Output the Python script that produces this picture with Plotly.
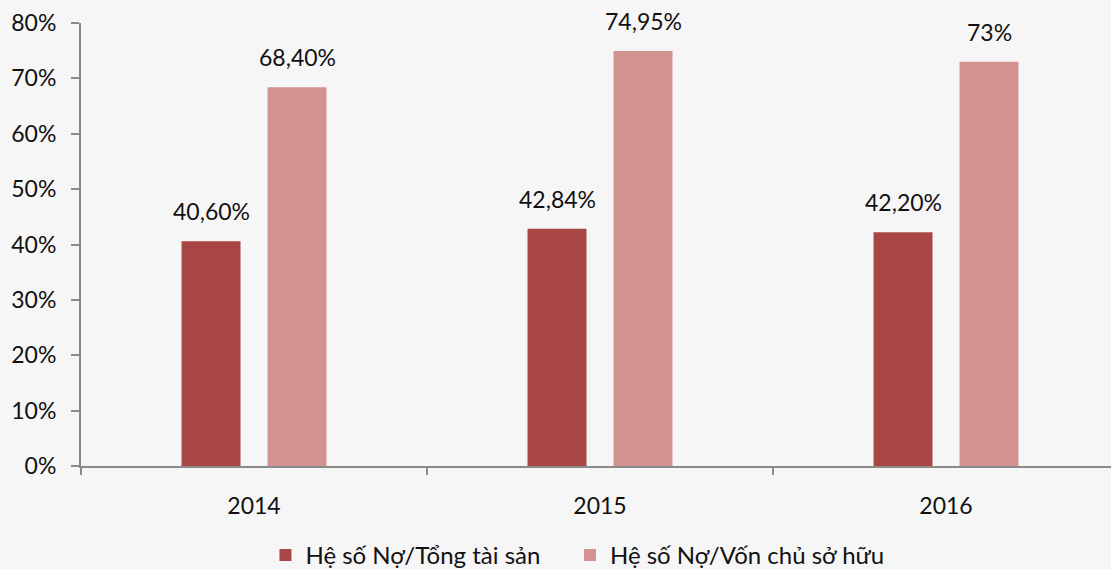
import plotly.graph_objects as go

# Debt ratios by year
years = ["2014", "2015", "2016"]
debt_to_assets = [40.60, 42.84, 42.20]
debt_to_equity = [68.40, 74.95, 73.00]
debt_to_assets_labels = ["40,60%", "42,84%", "42,20%"]
debt_to_equity_labels = ["68,40%", "74,95%", "73%"]
y_ticks = [0, 10, 20, 30, 40, 50, 60, 70, 80]
y_tick_text = [f"{v}%" for v in y_ticks]

FONT = "Lato, 'Open Sans', sans-serif"
DARK = "#A84646"
LIGHT = "#D39190"
AXIS = "#8a8a8a"
TXT = "#111111"

fig = go.Figure()
fig.add_trace(go.Bar(
    x=years, y=debt_to_assets, name="Hệ số Nợ/Tổng tài sản    ",
    marker=dict(color=DARK, line=dict(width=0)),
))
fig.add_trace(go.Bar(
    x=years, y=debt_to_equity, name="Hệ số Nợ/Vốn chủ sở hữu",
    marker=dict(color=LIGHT, line=dict(width=0)),
))

# value labels above each bar (x given as category index)
for i, (v, t) in enumerate(zip(debt_to_assets, debt_to_assets_labels)):
    fig.add_annotation(x=i, y=v, text=t, xshift=-43, yshift=14,
                       yanchor="bottom", showarrow=False,
                       font=dict(family=FONT, size=23, color=TXT))
for i, (v, t) in enumerate(zip(debt_to_equity, debt_to_equity_labels)):
    fig.add_annotation(x=i, y=v, text=t, xshift=43, yshift=14,
                       yanchor="bottom", showarrow=False,
                       font=dict(family=FONT, size=23, color=TXT))

fig.update_layout(
    width=1111, height=569,
    margin=dict(l=81, r=0, t=23, b=103, autoexpand=False),
    paper_bgcolor="#f7f6f7",
    plot_bgcolor="rgba(0,0,0,0)",
    barmode="group",
    bargap=0.503,
    bargroupgap=0.314,
    font=dict(family=FONT, size=22, color=TXT),
    showlegend=True,
    legend=dict(orientation="h", x=0.482, xanchor="center",
                yref="container", y=0.024, yanchor="middle",
                font=dict(family=FONT, size=24, color=TXT),
                traceorder="normal", bgcolor="rgba(0,0,0,0)"),
    xaxis=dict(
        type="category", range=[-0.5, 2.5 - 8 / 346],
        showline=True, linecolor=AXIS, linewidth=2,
        ticks="outside", tickson="boundaries", ticklen=7,
        tickcolor=AXIS, tickwidth=2, ticklabelstandoff=18,
        showgrid=False, zeroline=False,
        tickfont=dict(family=FONT, size=23, color=TXT),
    ),
    yaxis=dict(
        range=[0, 80], tickvals=y_ticks, ticktext=y_tick_text,
        showline=True, linecolor=AXIS, linewidth=2,
        ticks="outside", ticklen=8, tickcolor=AXIS, tickwidth=2,
        ticklabelstandoff=10,
        showgrid=False, zeroline=False,
        tickfont=dict(family=FONT, size=23, color=TXT),
    ),
)

fig.write_html("out.html")
